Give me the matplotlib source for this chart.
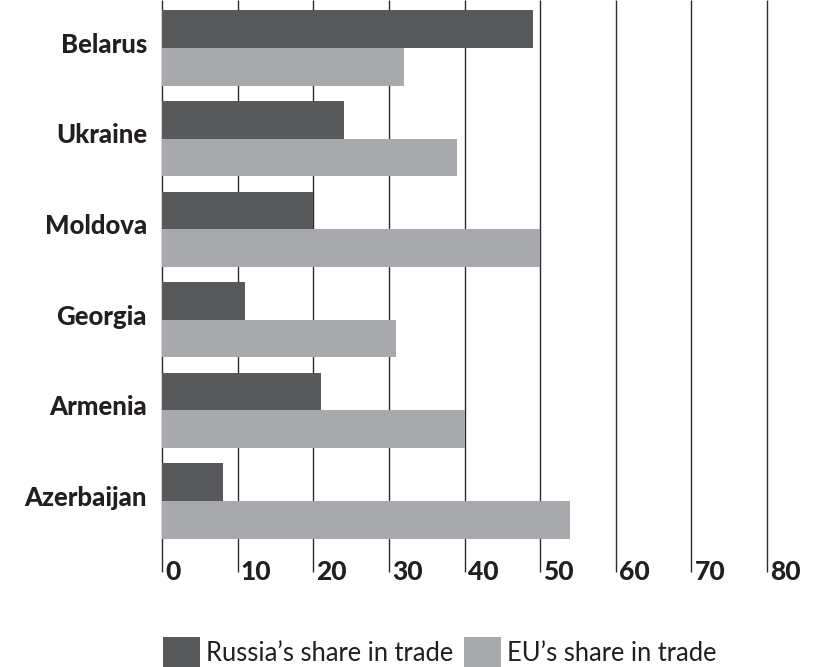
import matplotlib
matplotlib.use("Agg")
import matplotlib.pyplot as plt
import matplotlib.patches as patches
from matplotlib.transforms import blended_transform_factory
import numpy as np

plt.rcParams['font.family'] = ['Lato', 'DejaVu Sans']

# Data (share of trade, %)
countries = ['Belarus', 'Ukraine', 'Moldova', 'Georgia', 'Armenia', 'Azerbaijan']
russia_share = [49, 24, 20, 11, 21, 8]
eu_share = [32, 39, 50, 31, 40, 54]
x_ticks = [0, 10, 20, 30, 40, 50, 60, 70, 80]

DARK = '#58595b'
LIGHT = '#a7a9ac'
TEXT = '#231f20'

W, H = 819, 667
fig = plt.figure(figsize=(W / 100, H / 100), dpi=100)
ax = fig.add_axes([162 / W, 1 - 572 / H, (767 - 162) / W, 572 / H])

y = np.arange(len(countries))
bar_h = 0.416

ax.barh(y - bar_h / 2, russia_share, height=bar_h, color=DARK, zorder=2)
ax.barh(y + bar_h / 2, eu_share, height=bar_h, color=LIGHT, zorder=2)

top, bottom = -0.53, 5.784
ax.set_ylim(bottom, top)
ax.set_xlim(0, 80)

# vertical grid lines
ax.vlines(x_ticks, top, bottom, color='#2b2b2b', lw=1.0, zorder=1, clip_on=False)

for s in ax.spines.values():
    s.set_visible(False)
ax.set_xticks([])
ax.set_yticks([])

# country labels
for yi, name in zip(y, countries):
    ax.text(-2.0, yi - 0.035, name, ha='right', va='center', fontsize=18.5,
            fontweight='black', color=TEXT, clip_on=False)

# axis numbers, right of each grid line
trans = blended_transform_factory(ax.transData, ax.transAxes)
for v in x_ticks:
    ax.text(v + 0.4, 0.0, str(v), transform=trans, ha='left', va='center',
            fontsize=19, fontweight='black', color=TEXT, clip_on=False)

handles = [patches.Patch(facecolor=DARK, edgecolor='none', label='Russia’s share in trade'),
           patches.Patch(facecolor=LIGHT, edgecolor='none', label='EU’s share in trade')]
fig.legend(handles=handles, loc='lower left', bbox_to_anchor=(163 / W, 0),
           ncol=2, frameon=False, fontsize=18.4, handlelength=1.45, handleheight=1.4,
           handletextpad=0.25, columnspacing=0.4, borderpad=0, borderaxespad=0,
           labelcolor=TEXT)

fig.savefig('out.png', dpi=100)
